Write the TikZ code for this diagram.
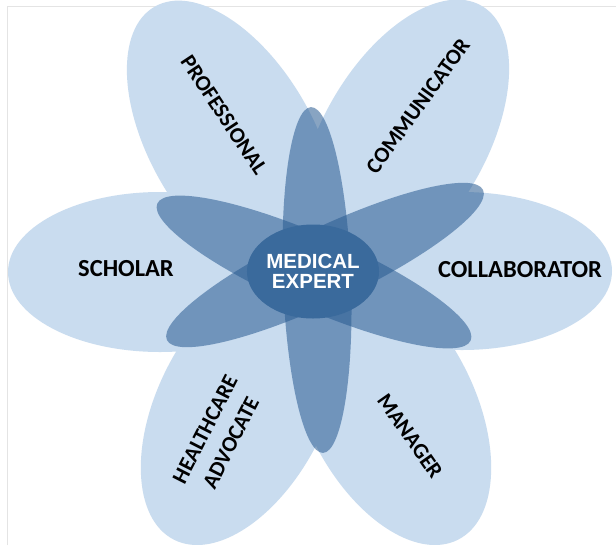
\documentclass[tikz,border=0pt]{standalone}
\usepackage{fontspec}
\newfontfamily\lblfont{Carlito}
\newfontfamily\ctrfont{Liberation Sans}
\usetikzlibrary{shapes.geometric}
\definecolor{lightc}{RGB}{201,220,239}
\definecolor{darkc}{RGB}{40,90,145}
\definecolor{centerc}{RGB}{58,106,156}
\definecolor{framec}{RGB}{228,228,228}
\tikzset{
  lightpetal/.style={ellipse, fill=lightc, draw=none, inner sep=0pt},
  darkpetal/.style={ellipse, fill=darkc, fill opacity=0.55, draw=none, inner sep=0pt},
  lbl/.style={font=\lblfont\bfseries\fontsize{22}{29}\selectfont, text=black, align=center, inner sep=0pt},
  lblh/.style={lbl, font=\lblfont\bfseries\fontsize{24.5}{29}\selectfont},
  ctr/.style={ellipse, fill=centerc, draw=none, inner sep=0pt, text=white, align=center,
    font=\ctrfont\bfseries\fontsize{20.5}{20.5}\selectfont}
}
\begin{document}
\begin{tikzpicture}[x=1pt,y=-1pt]
\useasboundingbox (0,0) rectangle (616,550);
\fill[white] (0,0) rectangle (616,550);
\coordinate (fa) at (7,545);
\coordinate (fb) at (7,6);
\coordinate (fc) at (616,6);
\draw[framec, line width=0.8pt] (fa) -- (fb) -- (fc);
% outer petals
\node[lightpetal, minimum width=304pt, minimum height=160pt] (pscholar) at (160,272) {};
\node[lightpetal, minimum width=300pt, minimum height=158pt] (pcollab) at (462,271) {};
\node[lightpetal, minimum width=310pt, minimum height=164pt, rotate=120] (pprof) at (232,141) {};
\node[lightpetal, minimum width=310pt, minimum height=164pt, rotate=60] (pcomm) at (404,140) {};
\node[lightpetal, minimum width=300pt, minimum height=168pt, rotate=63] (pheal) at (242,406) {};
\node[lightpetal, minimum width=300pt, minimum height=168pt, rotate=-63] (pman) at (390,406) {};
% inner dark petals
\node[darkpetal, minimum width=346pt, minimum height=68pt, rotate=92] (dv) at (317,280) {};
\node[darkpetal, minimum width=342pt, minimum height=74pt, rotate=-23.6] (dl) at (314,272) {};
\node[darkpetal, minimum width=350pt, minimum height=74pt, rotate=25.4] (dr) at (325,265) {};
% centre
\node[ctr, minimum width=106pt, minimum height=94pt] (expert) at (313,271.5) {MEDICAL\\EXPERT};
% labels
\node[lbl, rotate=-56.5] (tprof) at (224,115) {PROFESSIONAL};
\node[lbl, rotate=54] (tcomm) at (418,106) {COMMUNICATOR};
\node[lblh] (tscholar) at (126,269) {SCHOLAR};
\node[lblh] (tcollab) at (520,270) {COLLABORATOR};
\node[lbl, rotate=63] (theal) at (218,436) {HEALTHCARE\\ADVOCATE};
\node[lbl, rotate=-55] (tman) at (410,436) {MANAGER};
\end{tikzpicture}
\end{document}
